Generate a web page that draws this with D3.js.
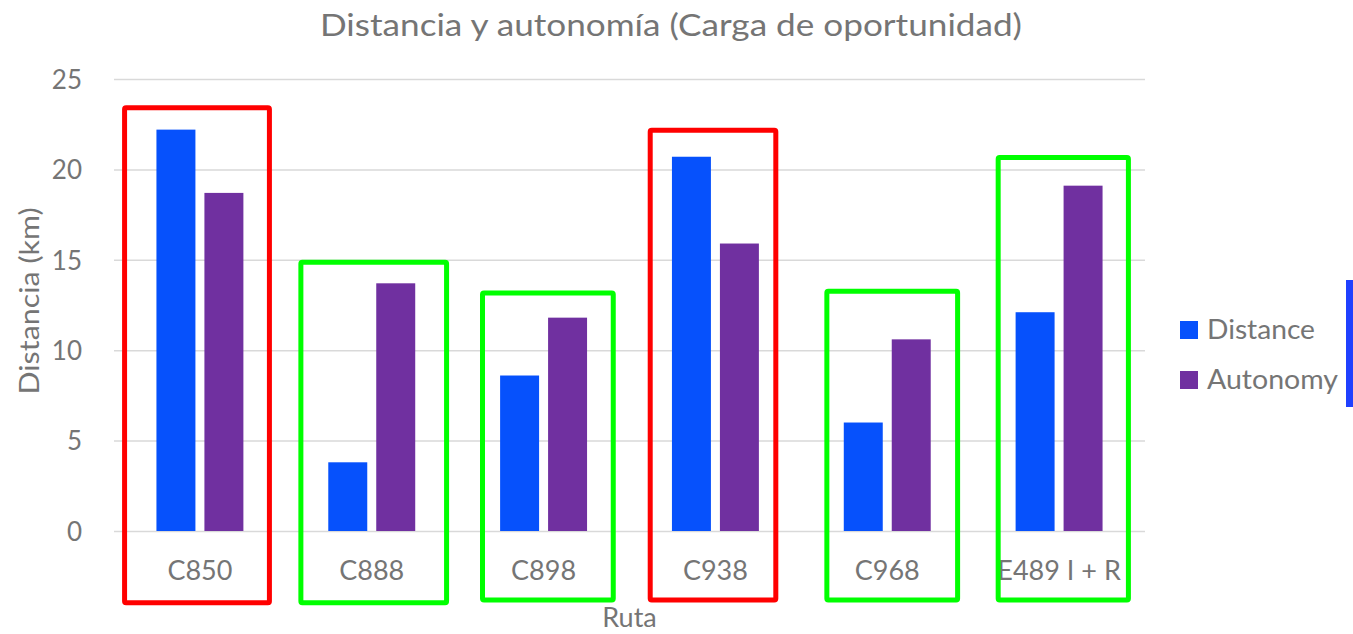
<!DOCTYPE html>
<html>
<head>
<meta charset="utf-8">
<script src="https://cdn.jsdelivr.net/npm/d3@7"></script>
<style>
  html, body { margin: 0; padding: 0; background: #fff; }
  svg { display: block; font-family: Lato, "Open Sans", sans-serif; }
</style>
</head>
<body>
<svg id="chart" width="1353" height="634"></svg>
<script>
// chart data
const categories = ["C850", "C888", "C898", "C938", "C968", "E489 I + R"];
const seriesNames = ["Distance", "Autonomy"];
const distance = [22.2, 3.8, 8.6, 20.7, 6.0, 12.1];
const autonomy = [18.7, 13.7, 11.8, 15.9, 10.6, 19.1];
const yTicks = [0, 5, 10, 15, 20, 25];

// highlight boxes drawn over each route (km for top/bottom, band steps for left/right)
const boxColors = ["#ff0000", "#00ff00", "#00ff00", "#ff0000", "#00ff00", "#00ff00"];
const boxTop = [23.55, 15.0, 13.3, 22.3, 13.4, 20.8];
const boxBottom = [-4.1, -4.1, -3.95, -3.95, -3.95, -3.95];
const boxLeft = [-0.453, -0.427, -0.37, -0.394, -0.366, -0.369];
const boxRight = [0.419, 0.45, 0.42, 0.366, 0.424, 0.418];

const colors = { Distance: "#0651fc", Autonomy: "#7030a0" };
const textColor = "#757575";

const svg = d3.select("#chart");
const plot = { left: 114, right: 1145, top: 79, bottom: 531 };

const x0 = d3
  .scaleBand()
  .domain(categories)
  .range([plot.left, plot.right])
  .paddingInner(0.494)
  .paddingOuter(0.247);

const x1 = d3
  .scaleBand()
  .domain(seriesNames)
  .range([0, x0.bandwidth()])
  .paddingInner(0.1875);

const y = d3.scaleLinear().domain([0, 25]).range([plot.bottom, plot.top]);

const rows = categories.map((c, i) => ({
  cat: c,
  values: [
    { key: "Distance", value: distance[i] },
    { key: "Autonomy", value: autonomy[i] },
  ],
}));

// title
svg
  .append("text")
  .attr("x", 671)
  .attr("y", 36)
  .attr("text-anchor", "middle")
  .attr("fill", textColor)
  .style("font-size", "30px")
  .attr("textLength", 702)
  .attr("lengthAdjust", "spacingAndGlyphs")
  .text("Distancia y autonomía (Carga de oportunidad)");

// gridlines + y axis labels
const yAxis = d3
  .axisLeft(y)
  .tickValues(yTicks)
  .tickSize(-(plot.right - plot.left))
  .tickPadding(32);

const yg = svg
  .append("g")
  .attr("transform", `translate(${plot.left},0)`)
  .call(yAxis);
yg.select(".domain").remove();
yg.selectAll(".tick line").attr("stroke", "#d9d9d9").attr("stroke-width", 1.5);
yg.selectAll(".tick text")
  .attr("fill", textColor)
  .style("font-size", "26px")
  .style("font-family", "Lato, sans-serif")
  .attr("dy", "0.36em");

// x axis labels
const xAxis = d3.axisBottom(x0).tickSize(0).tickPadding(30);
const xg = svg
  .append("g")
  .attr("transform", `translate(0,${plot.bottom})`)
  .call(xAxis);
xg.select(".domain").remove();
xg.selectAll(".tick text")
  .attr("fill", textColor)
  .style("font-size", "27px")
  .style("font-family", "Lato, sans-serif");

// axis titles
svg
  .append("text")
  .attr("x", (plot.left + plot.right) / 2)
  .attr("y", 627)
  .attr("text-anchor", "middle")
  .attr("fill", textColor)
  .style("font-size", "27px")
  .text("Ruta");

svg
  .append("text")
  .attr("transform", `translate(39,${(plot.top + plot.bottom) / 2 - 4}) rotate(-90)`)
  .attr("text-anchor", "middle")
  .attr("fill", textColor)
  .style("font-size", "27px")
  .attr("textLength", 187)
  .attr("lengthAdjust", "spacingAndGlyphs")
  .text("Distancia (km)");

// bars
const groups = svg
  .append("g")
  .selectAll("g.group")
  .data(rows)
  .join("g")
  .attr("class", "group")
  .attr("transform", (d) => `translate(${x0(d.cat)},0)`);

groups
  .selectAll("rect")
  .data((d) => d.values)
  .join("rect")
  .attr("x", (d) => x1(d.key))
  .attr("y", (d) => y(d.value))
  .attr("width", x1.bandwidth())
  .attr("height", (d) => y(0) - y(d.value))
  .attr("fill", (d) => colors[d.key]);

// highlight boxes
const sw = 5;
const step = x0.step();
const center = (c) => x0(c) + x0.bandwidth() / 2;

svg
  .append("g")
  .selectAll("rect")
  .data(categories)
  .join("rect")
  .attr("x", (c, i) => center(c) + boxLeft[i] * step + sw / 2)
  .attr("y", (c, i) => y(boxTop[i]) + sw / 2)
  .attr("width", (c, i) => (boxRight[i] - boxLeft[i]) * step - sw)
  .attr("height", (c, i) => y(boxBottom[i]) - y(boxTop[i]) - sw)
  .attr("rx", 1.5)
  .attr("fill", "none")
  .attr("stroke", (c, i) => boxColors[i])
  .attr("stroke-width", sw);

// legend
const legendLengths = [108, 131];
const legend = svg
  .append("g")
  .attr("transform", "translate(1180,321)")
  .selectAll("g")
  .data(seriesNames)
  .join("g")
  .attr("transform", (d, i) => `translate(0,${i * 50})`);

legend
  .append("rect")
  .attr("width", 18)
  .attr("height", 18)
  .attr("fill", (d) => colors[d]);

legend
  .append("text")
  .attr("x", 27)
  .attr("y", 17.5)
  .attr("fill", textColor)
  .style("font-size", "26px")
  .attr("textLength", (d, i) => legendLengths[i])
  .attr("lengthAdjust", "spacingAndGlyphs")
  .text((d) => d);

// clipped blue edge at the right border
svg
  .append("rect")
  .attr("x", 1346)
  .attr("y", 280)
  .attr("width", 7)
  .attr("height", 127)
  .attr("fill", "#2040ff");
</script>
</body>
</html>
